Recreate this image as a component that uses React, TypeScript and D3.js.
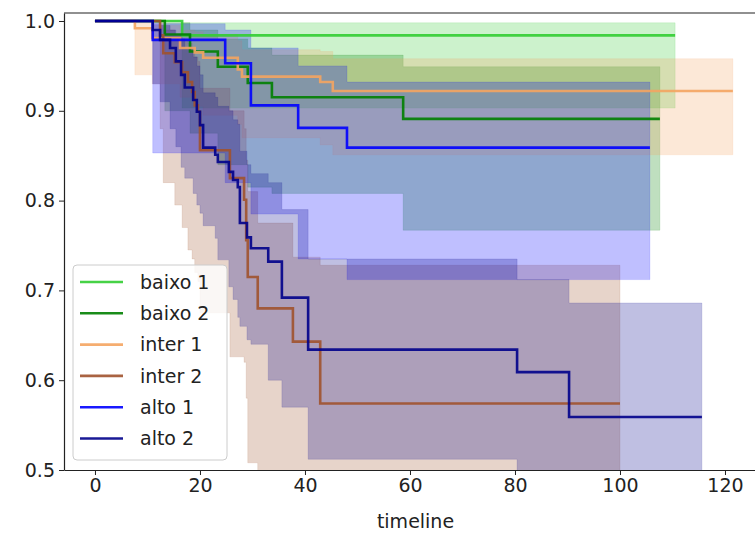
import React, { useRef, useEffect } from 'react';
import * as d3 from 'd3';

// groups, colours and tick values
const groups = ['baixo 1', 'baixo 2', 'inter 1', 'inter 2', 'alto 1', 'alto 2'];
const colors = ['#32cd32', '#008000', '#f4a460', '#a0522d', '#0000ff', '#00008b'];
const xTicks = [0, 20, 40, 60, 80, 100, 120];
const yTicks = [0.5, 0.6, 0.7, 0.8, 0.9, 1.0];

// Kaplan-Meier estimates: event times, survival, CI bounds
const baixo1Times = [0, 16.6];
const baixo1Surv = [1, 0.984];
const baixo1Lower = [1, 0.903];
const baixo1Upper = [1, 0.998];

const baixo2Times = [0, 13.3, 18.1, 23.4, 29.1, 33.7, 58.7];
const baixo2Surv = [1, 0.985, 0.966, 0.949, 0.931, 0.915, 0.891];
const baixo2Lower = [1, 0.9, 0.875, 0.84, 0.815, 0.808, 0.767];
const baixo2Upper = [1, 0.998, 0.99, 0.98, 0.97, 0.962, 0.949];

const inter1Times = [0, 7.6, 10.9, 16.2, 19.0, 20.6, 27.2, 28.0, 42.9, 45.3];
const inter1Surv = [1, 0.992, 0.981, 0.97, 0.965, 0.959, 0.946, 0.938, 0.932, 0.922];
const inter1Lower = [1, 0.94, 0.93, 0.915, 0.905, 0.895, 0.885, 0.87, 0.862, 0.851];
const inter1Upper = [1, 0.998, 0.995, 0.99, 0.988, 0.985, 0.978, 0.968, 0.966, 0.958];

const inter2Times = [0, 12.4, 13.0, 15.2, 16.6, 17.7, 18.5, 19.0, 19.6, 20.0, 25.7, 28.4, 28.8, 29.1, 31.0, 37.7, 42.9];
const inter2Surv = [1, 0.984, 0.964, 0.954, 0.943, 0.932, 0.921, 0.906, 0.899, 0.856, 0.825, 0.801, 0.756, 0.715, 0.68, 0.643, 0.574];
const inter2Lower = [1, 0.88, 0.82, 0.795, 0.77, 0.745, 0.735, 0.72, 0.71, 0.675, 0.626, 0.62, 0.58, 0.508, 0.47, 0.44, 0.38];
const inter2Upper = [1, 0.998, 0.99, 0.985, 0.98, 0.975, 0.968, 0.96, 0.955, 0.925, 0.9, 0.88, 0.845, 0.81, 0.775, 0.737, 0.728];

const alto1Times = [0, 11.0, 24.8, 29.7, 38.7, 48.0];
const alto1Surv = [1, 0.979, 0.953, 0.906, 0.881, 0.859];
const alto1Lower = [1, 0.853, 0.82, 0.785, 0.735, 0.712];
const alto1Upper = [1, 0.997, 0.99, 0.97, 0.95, 0.932];

const alto2Times = [0, 11.0, 12.4, 14.3, 15.4, 16.4, 17.1, 18.7, 19.4, 20.0, 20.6, 22.9, 23.4, 25.5, 26.3, 27.2, 27.6, 28.95, 29.7, 33.0, 35.6, 40.6, 80.4, 90.3];
const alto2Surv = [1, 0.99, 0.979, 0.97, 0.955, 0.94, 0.926, 0.912, 0.899, 0.884, 0.859, 0.851, 0.843, 0.832, 0.823, 0.815, 0.775, 0.759, 0.747, 0.732, 0.692, 0.634, 0.609, 0.559];
const alto2Lower = [1, 0.93, 0.91, 0.88, 0.86, 0.837, 0.825, 0.808, 0.795, 0.786, 0.772, 0.758, 0.734, 0.704, 0.69, 0.67, 0.66, 0.645, 0.64, 0.6, 0.57, 0.512, 0.47, 0.4];
const alto2Upper = [1, 0.999, 0.995, 0.99, 0.985, 0.98, 0.97, 0.96, 0.95, 0.94, 0.92, 0.915, 0.905, 0.9, 0.89, 0.885, 0.855, 0.84, 0.83, 0.82, 0.79, 0.735, 0.712, 0.686];

// last observed time of each group (curves run flat to here)
const endTimes = [110.5, 107.6, 121.5, 100, 105.7, 115.6];

const allTimes = [baixo1Times, baixo2Times, inter1Times, inter2Times, alto1Times, alto2Times];
const allSurv = [baixo1Surv, baixo2Surv, inter1Surv, inter2Surv, alto1Surv, alto2Surv];
const allLower = [baixo1Lower, baixo2Lower, inter1Lower, inter2Lower, alto1Lower, alto2Lower];
const allUpper = [baixo1Upper, baixo2Upper, inter1Upper, inter2Upper, alto1Upper, alto2Upper];

const W = 755;
const H = 534;
const FONT = '"DejaVu Sans", sans-serif';

const App = () => {
    const ref = useRef(null);

    useEffect(() => {
        const svg = d3.select(ref.current);
        svg.selectAll('*').remove();

        const left = 64, right = 767, top = 13, bottom = 470;

        const x = d3.scaleLinear().domain([-5.9, 128]).range([left, right]);
        const y = d3.scaleLinear().domain([0.5, 1.0089]).range([bottom, top]);

        svg.append('defs').append('clipPath').attr('id', 'plot-clip')
            .append('rect')
            .attr('x', left).attr('y', top)
            .attr('width', right - left).attr('height', bottom - top);

        const series = groups.map((g, i) => {
            const pts = allTimes[i].map((t, j) => ({
                t, s: allSurv[i][j], lo: allLower[i][j], hi: allUpper[i][j]
            }));
            const last = pts[pts.length - 1];
            pts.push({ ...last, t: endTimes[i] });
            return { name: g, color: colors[i], pts };
        });

        const plot = svg.append('g').attr('clip-path', 'url(#plot-clip)');

        const area = d3.area()
            .curve(d3.curveStepAfter)
            .x(d => x(d.t))
            .y0(d => y(d.lo))
            .y1(d => y(d.hi));

        const line = d3.line()
            .curve(d3.curveStepAfter)
            .x(d => x(d.t))
            .y(d => y(d.s));

        // confidence bands under all lines
        plot.selectAll('path.band')
            .data(series)
            .enter().append('path')
            .attr('class', 'band')
            .attr('d', d => area(d.pts))
            .attr('fill', d => d.color)
            .attr('fill-opacity', 0.25)
            .attr('stroke', d => d.color)
            .attr('stroke-opacity', 0.12)
            .attr('stroke-width', 1);

        plot.selectAll('path.km')
            .data(series)
            .enter().append('path')
            .attr('class', 'km')
            .attr('d', d => line(d.pts))
            .attr('fill', 'none')
            .attr('stroke', d => d.color)
            .attr('stroke-opacity', 0.9)
            .attr('stroke-width', 2.6);

        // axes
        const xAxis = svg.append('g')
            .attr('transform', `translate(0,${bottom})`)
            .call(d3.axisBottom(x).tickValues(xTicks).tickSize(5).tickSizeOuter(0).tickPadding(4));
        const yAxis = svg.append('g')
            .attr('transform', `translate(${left},0)`)
            .call(d3.axisLeft(y).tickValues(yTicks).tickFormat(d3.format('.1f')).tickSize(5).tickSizeOuter(0).tickPadding(4));

        [xAxis, yAxis].forEach(a => {
            a.selectAll('text').attr('font-family', FONT).attr('font-size', 19).attr('fill', '#222');
            a.selectAll('line').attr('stroke', '#222');
            a.select('.domain').attr('stroke', '#222').attr('stroke-width', 1.2);
        });

        svg.append('line')
            .attr('x1', left).attr('x2', right)
            .attr('y1', top).attr('y2', top)
            .attr('stroke', '#222').attr('stroke-width', 1.2);

        svg.append('text')
            .attr('x', (left + right) / 2)
            .attr('y', 528)
            .attr('text-anchor', 'middle')
            .attr('font-family', FONT)
            .attr('font-size', 19)
            .attr('fill', '#222')
            .text('timeline');

        // legend
        const lg = svg.append('g');
        lg.append('rect')
            .attr('x', 73).attr('y', 265)
            .attr('width', 154).attr('height', 195)
            .attr('rx', 4)
            .attr('fill', 'white').attr('fill-opacity', 0.8)
            .attr('stroke', '#cccccc');
        series.forEach((d, i) => {
            const cy = 282 + i * 31.3;
            lg.append('line')
                .attr('x1', 80).attr('x2', 123)
                .attr('y1', cy).attr('y2', cy)
                .attr('stroke', d.color).attr('stroke-opacity', 0.9).attr('stroke-width', 2.6);
            lg.append('text')
                .attr('x', 140).attr('y', cy)
                .attr('dy', '0.35em')
                .attr('font-family', FONT)
                .attr('font-size', 19)
                .attr('fill', '#222')
                .text(d.name);
        });
    }, []);

    return (
        <svg ref={ref} width={W} height={H}
            style={{ position: 'absolute', left: 0, top: 0, background: 'white' }}></svg>
    );
};

export default App;
